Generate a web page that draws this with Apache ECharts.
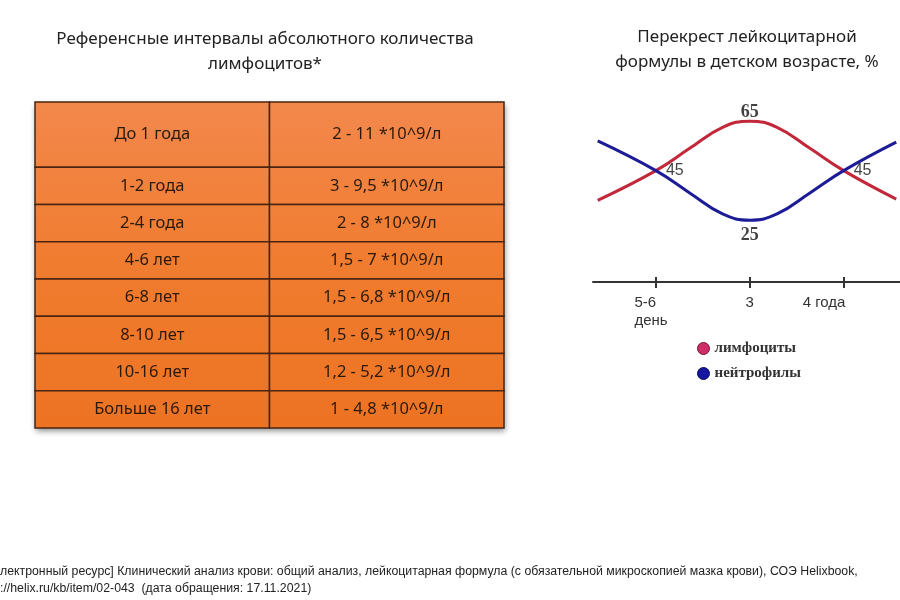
<!DOCTYPE html>
<html><head><meta charset="utf-8">
<script src="https://cdn.jsdelivr.net/npm/echarts@6/dist/echarts.min.js"></script>
<style>html,body{margin:0;padding:0;background:#fff}#c{width:900px;height:600px}</style>
</head><body><div id="c"></div>
<script>
// ---- Table data ----
const ageGroups = ['До 1 года','1-2 года','2-4 года','4-6 лет','6-8 лет','8-10 лет','10-16 лет','Больше 16 лет'];
const lymphRanges = ['2 - 11 *10^9/л','3 - 9,5 *10^9/л','2 - 8 *10^9/л','1,5 - 7 *10^9/л','1,5 - 6,8 *10^9/л','1,5 - 6,5 *10^9/л','1,2 - 5,2 *10^9/л','1 - 4,8 *10^9/л'];
const rowSpans = [1.75,1,1,1,1,1,1,1];

// ---- Crossover chart data ----
const ageX        = [0.38, 1, 1.36, 1.71, 2, 2.29, 2.64, 3, 3.56];
const lymphocytes = [33, 45, 54, 62.5, 65, 62.5, 54, 45, 33.5];
const neutrophils = [57, 45, 36, 27.5, 25, 27.5, 36, 45, 56.5];
const axisTicks = [1, 2, 3];
const axisTickLabels = ['5-6\nдень', '3', '4 года'];
const seriesNames = ['лимфоциты', 'нейтрофилы'];

const titleLeft = 'Референсные интервалы абсолютного количества\nлимфоцитов*';
const titleRight = 'Перекрест лейкоцитарной\nформулы в детском возрасте, %';
const footer = 'лектронный ресурс] Клинический анализ крови: общий анализ, лейкоцитарная формула (с обязательной микроскопией мазка крови), СОЭ Helixbook,\n://helix.ru/kb/item/02-043  (дата обращения: 17.11.2021)';

const cum = [];
rowSpans.reduce((a, s, i) => { cum[i] = a; return a + s; }, 0);
const totalSpan = rowSpans.reduce((a, b) => a + b, 0);

const tableData = [];
ageGroups.forEach((g, i) => { tableData.push([0, i]); tableData.push([1, i]); });

const chart = echarts.init(document.getElementById('c'), null, {renderer: 'canvas'});

function renderCell(params, api) {
  const col = api.value(0), row = api.value(1);
  const top = cum[row], bot = top + rowSpans[row];
  const p0 = api.coord([col, top]), p1 = api.coord([col + 1, bot]);
  const t0 = api.coord([0, 0]), t1 = api.coord([2, totalSpan]);
  const grad = new echarts.graphic.LinearGradient(0, t0[1], 0, t1[1], [
    {offset: 0, color: '#f3884c'},
    {offset: 0.5, color: '#f07c2f'},
    {offset: 1, color: '#ed7323'}
  ], true);
  const children = [];
  if (params.dataIndex === 0) {
    children.push({type: 'rect', shape: {x: t0[0], y: t0[1], width: t1[0] - t0[0], height: t1[1] - t0[1]},
      style: {fill: '#ed7323', shadowBlur: 6, shadowOffsetX: 1, shadowOffsetY: 3, shadowColor: 'rgba(0,0,0,0.45)'}});
  }
  children.push({type: 'rect', shape: {x: p0[0], y: p0[1], width: p1[0] - p0[0], height: p1[1] - p0[1]},
    style: {fill: grad, stroke: '#4a2410', lineWidth: 1.5}});
  children.push({type: 'text', style: {
    text: col === 0 ? ageGroups[row] : lymphRanges[row],
    x: (p0[0] + p1[0]) / 2, y: (p0[1] + p1[1]) / 2,
    align: 'center', verticalAlign: 'middle',
    fill: '#2a1a0e', fontSize: 16.5, fontFamily: 'Noto Sans'}});
  return {type: 'group', children};
}

const pt = (xs, ys, i) => [xs[i], ys[i]];
const richKeys = ['l', '', 'r'];
function tickFormatter(v) {
  const i = axisTicks.indexOf(Math.round(v));
  if (i < 0) return '';
  const k = richKeys[i];
  if (!k) return axisTickLabels[i];
  return axisTickLabels[i].split('\n').map(s => '{' + k + '|' + s + '}').join('\n');
}

const option = {
  backgroundColor: '#ffffff',
  animation: false,
  graphic: [
    {type: 'text', x: 265, y: 27, style: {text: titleLeft, align: 'center', fill: '#222', fontSize: 17, fontFamily: 'Noto Sans', lineHeight: 25}},
    {type: 'text', x: 747, y: 25, style: {text: titleRight, align: 'center', fill: '#222', fontSize: 17, fontFamily: 'Noto Sans', lineHeight: 25}},
    {type: 'text', x: 0, y: 563, style: {text: footer, align: 'left', fill: '#222', fontSize: 12.3, fontFamily: 'Liberation Sans', lineHeight: 17}}
  ],
  legend: {
    orient: 'vertical', left: 692, top: 336, icon: 'circle',
    itemWidth: 12, itemHeight: 12, itemGap: 10,
    textStyle: {fontFamily: 'Liberation Serif', fontWeight: 'bold', fontSize: 15, color: '#333'},
    data: [
      {name: seriesNames[0], itemStyle: {color: '#cc2e68', borderColor: '#7a1030', borderWidth: 1}},
      {name: seriesNames[1], itemStyle: {color: '#1616a0', borderColor: '#0a0a60', borderWidth: 1}}
    ]
  },
  grid: [
    {left: 35, top: 102, width: 469, height: 326},
    {left: 593, top: 84, width: 307, height: 198}
  ],
  xAxis: [
    {gridIndex: 0, type: 'value', min: 0, max: 2, show: false},
    {gridIndex: 1, type: 'value', min: 0.33, max: 3.6, position: 'bottom',
      axisLine: {show: true, lineStyle: {color: '#333', width: 2}},
      splitLine: {show: false},
      axisTick: {show: true, customValues: axisTicks, length: 6, lineStyle: {color: '#333', width: 2}},
      axisLabel: {customValues: axisTicks, margin: 12, color: '#333', fontSize: 15, fontFamily: 'Liberation Sans', lineHeight: 18,
        formatter: tickFormatter,
        rich: {
          l: {width: 43, align: 'left', fontSize: 15, fontFamily: 'Liberation Sans', color: '#333', lineHeight: 18},
          r: {width: 82, align: 'left', fontSize: 15, fontFamily: 'Liberation Sans', color: '#333', lineHeight: 18}
        }}},
    {gridIndex: 1, type: 'value', min: 0.33, max: 3.6, position: 'bottom',
      axisLine: {show: false}, splitLine: {show: false}, axisLabel: {show: false},
      axisTick: {show: true, inside: true, customValues: axisTicks, length: 5, lineStyle: {color: '#333', width: 2}}}
  ],
  yAxis: [
    {gridIndex: 0, type: 'value', min: 0, max: totalSpan, inverse: true, show: false},
    {gridIndex: 1, type: 'value', min: 0, max: 80, show: false}
  ],
  series: [
    {type: 'custom', xAxisIndex: 0, yAxisIndex: 0, renderItem: renderCell, data: tableData, silent: true},
    {name: seriesNames[0], type: 'line', xAxisIndex: 1, yAxisIndex: 1, smooth: 0.45, showSymbol: false,
      color: '#c2283a', lineStyle: {width: 3, color: '#c2283a'},
      data: ageX.map((x, i) => [x, lymphocytes[i]])},
    {name: seriesNames[1], type: 'line', xAxisIndex: 1, yAxisIndex: 1, smooth: 0.45, showSymbol: false,
      color: '#1c1c98', lineStyle: {width: 3, color: '#1c1c98'},
      data: ageX.map((x, i) => [x, neutrophils[i]])},
    {type: 'scatter', xAxisIndex: 1, yAxisIndex: 1, symbolSize: 0, silent: true, z: 5,
      label: {show: true, formatter: p => String(p.value[1]), color: '#111'},
      data: [
        {value: pt(ageX, lymphocytes, 4), label: {position: 'top', distance: 0, fontFamily: 'Liberation Serif', fontWeight: 'bold', fontSize: 18}},
        {value: pt(ageX, neutrophils, 4), label: {position: 'bottom', distance: 6, fontFamily: 'Liberation Serif', fontWeight: 'bold', fontSize: 18}},
        {value: pt(ageX, lymphocytes, 1), label: {position: 'right', distance: 10, fontFamily: 'Liberation Sans', fontSize: 16}},
        {value: pt(ageX, lymphocytes, 7), label: {position: 'right', distance: 10, fontFamily: 'Liberation Sans', fontSize: 16}}
      ]}
  ]
};
chart.setOption(option);
</script>
</body></html>
